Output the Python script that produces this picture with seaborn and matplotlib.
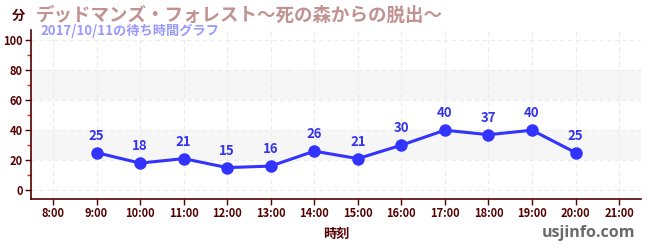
import matplotlib
matplotlib.use("Agg")
import matplotlib.pyplot as plt
import seaborn as sns
import pandas as pd

hours = [9, 10, 11, 12, 13, 14, 15, 16, 17, 18, 19, 20]
waits = [25, 18, 21, 15, 16, 26, 21, 30, 40, 37, 40, 25]
xticks = list(range(8, 22))
xlabels = [f"{h}:00" for h in xticks]
yticks = [0, 20, 40, 60, 80, 100]
title = "デッドマンズ・フォレスト〜死の森からの脱出〜"
subtitle = "2017/10/11の待ち時間グラフ"

sns.set_theme(style="white")
plt.rcParams['font.family'] = ['Noto Sans CJK JP', 'DejaVu Sans']

df = pd.DataFrame({"hour": hours, "wait": waits})
fig = plt.figure(figsize=(6.5, 2.5), dpi=100)
ax = fig.add_axes([0.048, 0.204, 0.938, 0.676])

for lo, hi in [(20, 40), (60, 80)]:
    ax.axhspan(lo, hi, color="#f6f6f6", zorder=0, lw=0)

sns.lineplot(data=df, x="hour", y="wait", ax=ax, color="#3333ff", lw=2.2,
             marker="o", markersize=9, markeredgewidth=0, zorder=3)
for h, w in zip(hours, waits):
    ax.annotate(str(w), (h, w), xytext=(0, 7), textcoords="offset points",
                ha="center", va="bottom", color="#3333ee", fontsize=9.5,
                fontweight="bold")

ax.set_xlim(7.5, 21.5)
ax.set_ylim(-6, 107)
ax.set_xticks(xticks)
ax.set_xticklabels(xlabels)
ax.set_yticks(yticks)
ax.set_yticks([10, 30, 50, 70, 90], minor=True)
ax.tick_params(axis="y", which="minor", length=3, color="#dd2222", width=1, left=True)
ax.tick_params(axis="both", which="major", length=4, color="#550000", width=1,
               labelsize=8, labelcolor="#550000", left=True, bottom=True, pad=2)
for lab in ax.get_xticklabels() + ax.get_yticklabels():
    lab.set_fontweight("bold")
ax.grid(True, color="#ebebeb", ls=(0, (4, 3)), lw=0.8)
for s in ["top", "right"]:
    ax.spines[s].set_visible(False)
for s in ["left", "bottom"]:
    ax.spines[s].set_color("#550000")
    ax.spines[s].set_linewidth(1.2)
ax.set_xlabel("時刻", color="#550000", fontsize=9.5, fontweight="bold", labelpad=5)
ax.set_ylabel("")

fig.text(0.028, 0.935, "分", color="#550000", fontsize=9.5, fontweight="bold", ha="center", va="center")
fig.text(0.055, 0.94, title, color="#c29292", fontsize=13.3, fontweight="bold", ha="left", va="center")
fig.text(0.062, 0.875, subtitle, color="#9999ff", fontsize=9.5, fontweight="bold", ha="left", va="center")
fig.text(0.977, 0.068, "usjinfo.com", color="#6a6a6a", fontsize=11.5, fontweight="bold", ha="right", va="center",
         family=["Open Sans", "DejaVu Sans"])

fig.savefig("out.png", dpi=100)
